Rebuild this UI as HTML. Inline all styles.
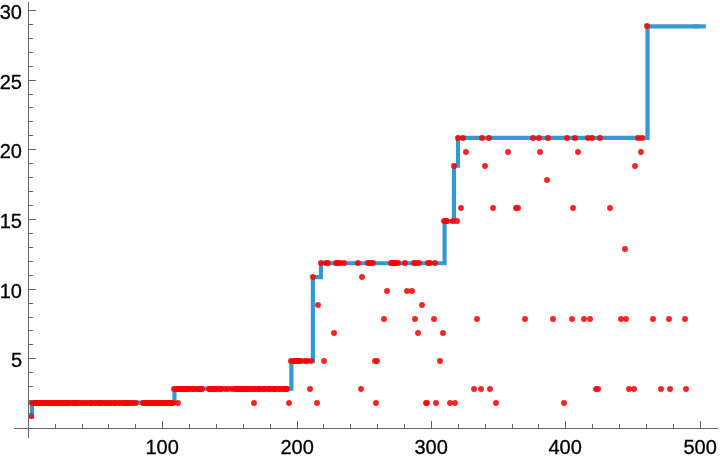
<!DOCTYPE html>
<html><head><meta charset="utf-8"><title>Plot</title>
<style>html,body{margin:0;padding:0;background:#fff;}svg{display:block;}</style>
</head><body>
<svg width="720" height="460" viewBox="0 0 720 460">
<rect width="720" height="460" fill="#fff"/>
<g font-family="'Liberation Sans', Arial, Helvetica, sans-serif" font-size="20" fill="#000" stroke="#000" stroke-width="0.3">
<text x="162.20" y="453.8" text-anchor="middle">100</text>
<text x="297.20" y="453.8" text-anchor="middle">200</text>
<text x="431.20" y="453.8" text-anchor="middle">300</text>
<text x="565.20" y="453.8" text-anchor="middle">400</text>
<text x="700.20" y="453.8" text-anchor="middle">500</text>
<text x="22" y="367.00" text-anchor="end">5</text>
<text x="22" y="298.00" text-anchor="end">10</text>
<text x="22" y="228.00" text-anchor="end">15</text>
<text x="22" y="158.00" text-anchor="end">20</text>
<text x="22" y="89.00" text-anchor="end">25</text>
<text x="22" y="19.00" text-anchor="end">30</text>
</g>
<path d="M30.64 416.55 L31.99 416.55 L31.99 402.61 L174.45 402.61 L174.45 388.68 L291.37 388.68 L291.37 360.81 L312.87 360.81 L312.87 277.20 L320.94 277.20 L320.94 263.26 L444.58 263.26 L444.58 221.46 L453.99 221.46 L453.99 165.72 L458.02 165.72 L458.02 137.85 L647.52 137.85 L647.52 26.37 L705.80 26.37" fill="none" stroke="#3897cc" stroke-width="4.2" stroke-linejoin="miter"/>
<rect x="694" y="23.87" width="4" height="5" fill="#3897cc" fill-opacity="0.45"/>
<g fill="#ff0000" fill-opacity="0.86">
<circle cx="31" cy="416" r="2.95"/>
<circle cx="32" cy="403" r="2.95"/>
<circle cx="33" cy="403" r="2.95"/>
<circle cx="34" cy="403" r="2.95"/>
<circle cx="35" cy="403" r="2.95"/>
<circle cx="36" cy="403" r="2.95"/>
<circle cx="37" cy="403" r="2.95"/>
<circle cx="38" cy="403" r="2.95"/>
<circle cx="39" cy="403" r="2.95"/>
<circle cx="40" cy="403" r="2.95"/>
<circle cx="41" cy="403" r="2.95"/>
<circle cx="42" cy="403" r="2.95"/>
<circle cx="43" cy="403" r="2.95"/>
<circle cx="44" cy="403" r="2.95"/>
<circle cx="45" cy="403" r="2.95"/>
<circle cx="46" cy="403" r="2.95"/>
<circle cx="47" cy="403" r="2.95"/>
<circle cx="48" cy="403" r="2.95"/>
<circle cx="49" cy="403" r="2.95"/>
<circle cx="50" cy="403" r="2.95"/>
<circle cx="51" cy="403" r="2.95"/>
<circle cx="52" cy="403" r="2.95"/>
<circle cx="53" cy="403" r="2.95"/>
<circle cx="54" cy="403" r="2.95"/>
<circle cx="55" cy="403" r="2.95"/>
<circle cx="56" cy="403" r="2.95"/>
<circle cx="57" cy="403" r="2.95"/>
<circle cx="58" cy="403" r="2.95"/>
<circle cx="59" cy="403" r="2.95"/>
<circle cx="60" cy="403" r="2.95"/>
<circle cx="61" cy="403" r="2.95"/>
<circle cx="62" cy="403" r="2.95"/>
<circle cx="63" cy="403" r="2.95"/>
<circle cx="64" cy="403" r="2.95"/>
<circle cx="65" cy="403" r="2.95"/>
<circle cx="66" cy="403" r="2.95"/>
<circle cx="67" cy="403" r="2.95"/>
<circle cx="68" cy="403" r="2.95"/>
<circle cx="69" cy="403" r="2.95"/>
<circle cx="72" cy="403" r="2.95"/>
<circle cx="73" cy="403" r="2.95"/>
<circle cx="74" cy="403" r="2.95"/>
<circle cx="75" cy="403" r="2.95"/>
<circle cx="76" cy="403" r="2.95"/>
<circle cx="77" cy="403" r="2.95"/>
<circle cx="78" cy="403" r="2.95"/>
<circle cx="79" cy="403" r="2.95"/>
<circle cx="82" cy="403" r="2.95"/>
<circle cx="83" cy="403" r="2.95"/>
<circle cx="86" cy="403" r="2.95"/>
<circle cx="87" cy="403" r="2.95"/>
<circle cx="90" cy="403" r="2.95"/>
<circle cx="91" cy="403" r="2.95"/>
<circle cx="92" cy="403" r="2.95"/>
<circle cx="95" cy="403" r="2.95"/>
<circle cx="96" cy="403" r="2.95"/>
<circle cx="99" cy="403" r="2.95"/>
<circle cx="100" cy="403" r="2.95"/>
<circle cx="101" cy="403" r="2.95"/>
<circle cx="102" cy="403" r="2.95"/>
<circle cx="105" cy="403" r="2.95"/>
<circle cx="106" cy="403" r="2.95"/>
<circle cx="107" cy="403" r="2.95"/>
<circle cx="110" cy="403" r="2.95"/>
<circle cx="111" cy="403" r="2.95"/>
<circle cx="114" cy="403" r="2.95"/>
<circle cx="115" cy="403" r="2.95"/>
<circle cx="116" cy="403" r="2.95"/>
<circle cx="119" cy="403" r="2.95"/>
<circle cx="120" cy="403" r="2.95"/>
<circle cx="123" cy="403" r="2.95"/>
<circle cx="124" cy="403" r="2.95"/>
<circle cx="125" cy="403" r="2.95"/>
<circle cx="126" cy="403" r="2.95"/>
<circle cx="127" cy="403" r="2.95"/>
<circle cx="128" cy="403" r="2.95"/>
<circle cx="129" cy="403" r="2.95"/>
<circle cx="132" cy="403" r="2.95"/>
<circle cx="133" cy="403" r="2.95"/>
<circle cx="136" cy="403" r="2.95"/>
<circle cx="143" cy="403" r="2.95"/>
<circle cx="144" cy="403" r="2.95"/>
<circle cx="145" cy="403" r="2.95"/>
<circle cx="146" cy="403" r="2.95"/>
<circle cx="147" cy="403" r="2.95"/>
<circle cx="148" cy="403" r="2.95"/>
<circle cx="149" cy="403" r="2.95"/>
<circle cx="150" cy="403" r="2.95"/>
<circle cx="151" cy="403" r="2.95"/>
<circle cx="152" cy="403" r="2.95"/>
<circle cx="153" cy="403" r="2.95"/>
<circle cx="154" cy="403" r="2.95"/>
<circle cx="155" cy="403" r="2.95"/>
<circle cx="156" cy="403" r="2.95"/>
<circle cx="157" cy="403" r="2.95"/>
<circle cx="158" cy="403" r="2.95"/>
<circle cx="159" cy="403" r="2.95"/>
<circle cx="160" cy="403" r="2.95"/>
<circle cx="161" cy="403" r="2.95"/>
<circle cx="162" cy="403" r="2.95"/>
<circle cx="163" cy="403" r="2.95"/>
<circle cx="164" cy="403" r="2.95"/>
<circle cx="165" cy="403" r="2.95"/>
<circle cx="166" cy="403" r="2.95"/>
<circle cx="167" cy="403" r="2.95"/>
<circle cx="168" cy="403" r="2.95"/>
<circle cx="169" cy="403" r="2.95"/>
<circle cx="170" cy="403" r="2.95"/>
<circle cx="171" cy="403" r="2.95"/>
<circle cx="172" cy="403" r="2.95"/>
<circle cx="173" cy="403" r="2.95"/>
<circle cx="178" cy="403" r="2.95"/>
<circle cx="254" cy="403" r="2.95"/>
<circle cx="289" cy="403" r="2.95"/>
<circle cx="317" cy="403" r="2.95"/>
<circle cx="376" cy="403" r="2.95"/>
<circle cx="426" cy="403" r="2.95"/>
<circle cx="427" cy="403" r="2.95"/>
<circle cx="436" cy="403" r="2.95"/>
<circle cx="450" cy="403" r="2.95"/>
<circle cx="455" cy="403" r="2.95"/>
<circle cx="496" cy="403" r="2.95"/>
<circle cx="564" cy="403" r="2.95"/>
<circle cx="174" cy="389" r="2.95"/>
<circle cx="177" cy="389" r="2.95"/>
<circle cx="178" cy="389" r="2.95"/>
<circle cx="179" cy="389" r="2.95"/>
<circle cx="180" cy="389" r="2.95"/>
<circle cx="181" cy="389" r="2.95"/>
<circle cx="182" cy="389" r="2.95"/>
<circle cx="183" cy="389" r="2.95"/>
<circle cx="184" cy="389" r="2.95"/>
<circle cx="185" cy="389" r="2.95"/>
<circle cx="186" cy="389" r="2.95"/>
<circle cx="187" cy="389" r="2.95"/>
<circle cx="188" cy="389" r="2.95"/>
<circle cx="189" cy="389" r="2.95"/>
<circle cx="192" cy="389" r="2.95"/>
<circle cx="193" cy="389" r="2.95"/>
<circle cx="194" cy="389" r="2.95"/>
<circle cx="195" cy="389" r="2.95"/>
<circle cx="198" cy="389" r="2.95"/>
<circle cx="199" cy="389" r="2.95"/>
<circle cx="200" cy="389" r="2.95"/>
<circle cx="201" cy="389" r="2.95"/>
<circle cx="202" cy="389" r="2.95"/>
<circle cx="209" cy="389" r="2.95"/>
<circle cx="210" cy="389" r="2.95"/>
<circle cx="211" cy="389" r="2.95"/>
<circle cx="212" cy="389" r="2.95"/>
<circle cx="213" cy="389" r="2.95"/>
<circle cx="214" cy="389" r="2.95"/>
<circle cx="215" cy="389" r="2.95"/>
<circle cx="216" cy="389" r="2.95"/>
<circle cx="219" cy="389" r="2.95"/>
<circle cx="220" cy="389" r="2.95"/>
<circle cx="221" cy="389" r="2.95"/>
<circle cx="225" cy="389" r="2.95"/>
<circle cx="228" cy="389" r="2.95"/>
<circle cx="232" cy="389" r="2.95"/>
<circle cx="235" cy="389" r="2.95"/>
<circle cx="236" cy="389" r="2.95"/>
<circle cx="237" cy="389" r="2.95"/>
<circle cx="238" cy="389" r="2.95"/>
<circle cx="239" cy="389" r="2.95"/>
<circle cx="240" cy="389" r="2.95"/>
<circle cx="241" cy="389" r="2.95"/>
<circle cx="242" cy="389" r="2.95"/>
<circle cx="243" cy="389" r="2.95"/>
<circle cx="244" cy="389" r="2.95"/>
<circle cx="245" cy="389" r="2.95"/>
<circle cx="246" cy="389" r="2.95"/>
<circle cx="247" cy="389" r="2.95"/>
<circle cx="248" cy="389" r="2.95"/>
<circle cx="249" cy="389" r="2.95"/>
<circle cx="250" cy="389" r="2.95"/>
<circle cx="253" cy="389" r="2.95"/>
<circle cx="254" cy="389" r="2.95"/>
<circle cx="255" cy="389" r="2.95"/>
<circle cx="258" cy="389" r="2.95"/>
<circle cx="259" cy="389" r="2.95"/>
<circle cx="260" cy="389" r="2.95"/>
<circle cx="263" cy="389" r="2.95"/>
<circle cx="264" cy="389" r="2.95"/>
<circle cx="265" cy="389" r="2.95"/>
<circle cx="268" cy="389" r="2.95"/>
<circle cx="269" cy="389" r="2.95"/>
<circle cx="270" cy="389" r="2.95"/>
<circle cx="273" cy="389" r="2.95"/>
<circle cx="274" cy="389" r="2.95"/>
<circle cx="275" cy="389" r="2.95"/>
<circle cx="276" cy="389" r="2.95"/>
<circle cx="279" cy="389" r="2.95"/>
<circle cx="280" cy="389" r="2.95"/>
<circle cx="283" cy="389" r="2.95"/>
<circle cx="284" cy="389" r="2.95"/>
<circle cx="285" cy="389" r="2.95"/>
<circle cx="286" cy="389" r="2.95"/>
<circle cx="287" cy="389" r="2.95"/>
<circle cx="310" cy="389" r="2.95"/>
<circle cx="361" cy="389" r="2.95"/>
<circle cx="474" cy="389" r="2.95"/>
<circle cx="481" cy="389" r="2.95"/>
<circle cx="490" cy="389" r="2.95"/>
<circle cx="596" cy="389" r="2.95"/>
<circle cx="598" cy="389" r="2.95"/>
<circle cx="629" cy="389" r="2.95"/>
<circle cx="634" cy="389" r="2.95"/>
<circle cx="661" cy="389" r="2.95"/>
<circle cx="670" cy="389" r="2.95"/>
<circle cx="686" cy="389" r="2.95"/>
<circle cx="291" cy="361" r="2.95"/>
<circle cx="294" cy="361" r="2.95"/>
<circle cx="295" cy="361" r="2.95"/>
<circle cx="297" cy="361" r="2.95"/>
<circle cx="298" cy="361" r="2.95"/>
<circle cx="299" cy="361" r="2.95"/>
<circle cx="301" cy="361" r="2.95"/>
<circle cx="305" cy="361" r="2.95"/>
<circle cx="307" cy="361" r="2.95"/>
<circle cx="311" cy="361" r="2.95"/>
<circle cx="324" cy="361" r="2.95"/>
<circle cx="375" cy="361" r="2.95"/>
<circle cx="377" cy="361" r="2.95"/>
<circle cx="440" cy="361" r="2.95"/>
<circle cx="334" cy="333" r="2.95"/>
<circle cx="418" cy="333" r="2.95"/>
<circle cx="443" cy="333" r="2.95"/>
<circle cx="384" cy="319" r="2.95"/>
<circle cx="415" cy="319" r="2.95"/>
<circle cx="434" cy="319" r="2.95"/>
<circle cx="477" cy="319" r="2.95"/>
<circle cx="525" cy="319" r="2.95"/>
<circle cx="553" cy="319" r="2.95"/>
<circle cx="572" cy="319" r="2.95"/>
<circle cx="584" cy="319" r="2.95"/>
<circle cx="590" cy="319" r="2.95"/>
<circle cx="621" cy="319" r="2.95"/>
<circle cx="626" cy="319" r="2.95"/>
<circle cx="653" cy="319" r="2.95"/>
<circle cx="669" cy="319" r="2.95"/>
<circle cx="685" cy="319" r="2.95"/>
<circle cx="318" cy="305" r="2.95"/>
<circle cx="422" cy="305" r="2.95"/>
<circle cx="387" cy="291" r="2.95"/>
<circle cx="407" cy="291" r="2.95"/>
<circle cx="412" cy="291" r="2.95"/>
<circle cx="313" cy="277" r="2.95"/>
<circle cx="362" cy="277" r="2.95"/>
<circle cx="321" cy="263" r="2.95"/>
<circle cx="326" cy="263" r="2.95"/>
<circle cx="328" cy="263" r="2.95"/>
<circle cx="336" cy="263" r="2.95"/>
<circle cx="337" cy="263" r="2.95"/>
<circle cx="338" cy="263" r="2.95"/>
<circle cx="340" cy="263" r="2.95"/>
<circle cx="344" cy="263" r="2.95"/>
<circle cx="358" cy="263" r="2.95"/>
<circle cx="368" cy="263" r="2.95"/>
<circle cx="369" cy="263" r="2.95"/>
<circle cx="371" cy="263" r="2.95"/>
<circle cx="373" cy="263" r="2.95"/>
<circle cx="391" cy="263" r="2.95"/>
<circle cx="392" cy="263" r="2.95"/>
<circle cx="393" cy="263" r="2.95"/>
<circle cx="395" cy="263" r="2.95"/>
<circle cx="396" cy="263" r="2.95"/>
<circle cx="398" cy="263" r="2.95"/>
<circle cx="405" cy="263" r="2.95"/>
<circle cx="414" cy="263" r="2.95"/>
<circle cx="416" cy="263" r="2.95"/>
<circle cx="419" cy="263" r="2.95"/>
<circle cx="428" cy="263" r="2.95"/>
<circle cx="430" cy="263" r="2.95"/>
<circle cx="435" cy="263" r="2.95"/>
<circle cx="625" cy="249" r="2.95"/>
<circle cx="444" cy="221" r="2.95"/>
<circle cx="446" cy="221" r="2.95"/>
<circle cx="447" cy="221" r="2.95"/>
<circle cx="453" cy="221" r="2.95"/>
<circle cx="457" cy="221" r="2.95"/>
<circle cx="461" cy="208" r="2.95"/>
<circle cx="493" cy="208" r="2.95"/>
<circle cx="516" cy="208" r="2.95"/>
<circle cx="518" cy="208" r="2.95"/>
<circle cx="573" cy="208" r="2.95"/>
<circle cx="610" cy="208" r="2.95"/>
<circle cx="547" cy="180" r="2.95"/>
<circle cx="454" cy="166" r="2.95"/>
<circle cx="485" cy="166" r="2.95"/>
<circle cx="635" cy="166" r="2.95"/>
<circle cx="466" cy="152" r="2.95"/>
<circle cx="508" cy="152" r="2.95"/>
<circle cx="540" cy="152" r="2.95"/>
<circle cx="578" cy="152" r="2.95"/>
<circle cx="641" cy="152" r="2.95"/>
<circle cx="458" cy="138" r="2.95"/>
<circle cx="463" cy="138" r="2.95"/>
<circle cx="482" cy="138" r="2.95"/>
<circle cx="489" cy="138" r="2.95"/>
<circle cx="533" cy="138" r="2.95"/>
<circle cx="539" cy="138" r="2.95"/>
<circle cx="548" cy="138" r="2.95"/>
<circle cx="567" cy="138" r="2.95"/>
<circle cx="575" cy="138" r="2.95"/>
<circle cx="588" cy="138" r="2.95"/>
<circle cx="592" cy="138" r="2.95"/>
<circle cx="600" cy="138" r="2.95"/>
<circle cx="638" cy="138" r="2.95"/>
<circle cx="642" cy="138" r="2.95"/>
<circle cx="647" cy="26" r="2.95"/>
</g>
<g fill="#666666" shape-rendering="crispEdges">
<rect x="14" y="428" width="704" height="1"/>
<rect x="28" y="2" width="1" height="436"/>
<rect x="55" y="424" width="1" height="4"/>
<rect x="82" y="424" width="1" height="4"/>
<rect x="108" y="424" width="1" height="4"/>
<rect x="135" y="424" width="1" height="4"/>
<rect x="162" y="421" width="1" height="7"/>
<rect x="189" y="424" width="1" height="4"/>
<rect x="216" y="424" width="1" height="4"/>
<rect x="243" y="424" width="1" height="4"/>
<rect x="270" y="424" width="1" height="4"/>
<rect x="297" y="421" width="1" height="7"/>
<rect x="323" y="424" width="1" height="4"/>
<rect x="350" y="424" width="1" height="4"/>
<rect x="377" y="424" width="1" height="4"/>
<rect x="404" y="424" width="1" height="4"/>
<rect x="431" y="421" width="1" height="7"/>
<rect x="458" y="424" width="1" height="4"/>
<rect x="485" y="424" width="1" height="4"/>
<rect x="512" y="424" width="1" height="4"/>
<rect x="538" y="424" width="1" height="4"/>
<rect x="565" y="421" width="1" height="7"/>
<rect x="592" y="424" width="1" height="4"/>
<rect x="619" y="424" width="1" height="4"/>
<rect x="646" y="424" width="1" height="4"/>
<rect x="673" y="424" width="1" height="4"/>
<rect x="700" y="421" width="1" height="7"/>
<rect x="29" y="414" width="4" height="1"/>
<rect x="29" y="400" width="4" height="1"/>
<rect x="29" y="386" width="4" height="1"/>
<rect x="29" y="372" width="4" height="1"/>
<rect x="29" y="358" width="7" height="1"/>
<rect x="29" y="344" width="4" height="1"/>
<rect x="29" y="330" width="4" height="1"/>
<rect x="29" y="317" width="4" height="1"/>
<rect x="29" y="303" width="4" height="1"/>
<rect x="29" y="289" width="7" height="1"/>
<rect x="29" y="275" width="4" height="1"/>
<rect x="29" y="261" width="4" height="1"/>
<rect x="29" y="247" width="4" height="1"/>
<rect x="29" y="233" width="4" height="1"/>
<rect x="29" y="219" width="7" height="1"/>
<rect x="29" y="205" width="4" height="1"/>
<rect x="29" y="191" width="4" height="1"/>
<rect x="29" y="177" width="4" height="1"/>
<rect x="29" y="163" width="4" height="1"/>
<rect x="29" y="149" width="7" height="1"/>
<rect x="29" y="135" width="4" height="1"/>
<rect x="29" y="121" width="4" height="1"/>
<rect x="29" y="107" width="4" height="1"/>
<rect x="29" y="94" width="4" height="1"/>
<rect x="29" y="80" width="7" height="1"/>
<rect x="29" y="66" width="4" height="1"/>
<rect x="29" y="52" width="4" height="1"/>
<rect x="29" y="38" width="4" height="1"/>
<rect x="29" y="24" width="4" height="1"/>
<rect x="29" y="10" width="7" height="1"/>
</g>
</svg>
</body></html>
